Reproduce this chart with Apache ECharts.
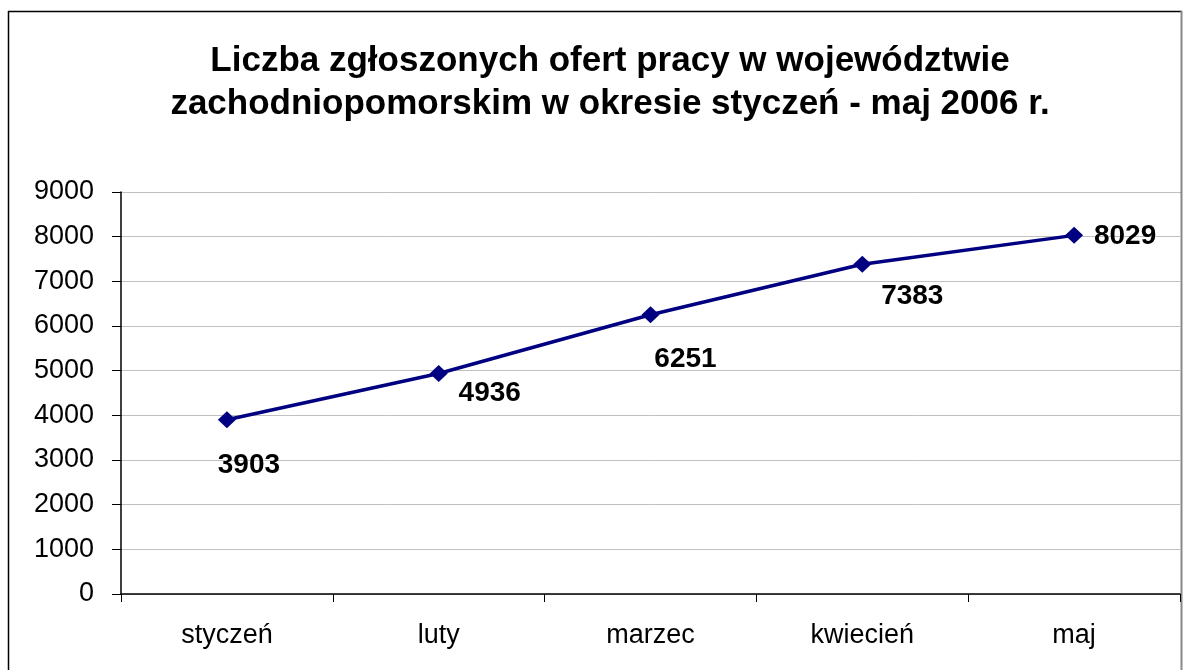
<!DOCTYPE html>
<html>
<head>
<meta charset="utf-8">
<script src="https://cdn.jsdelivr.net/npm/echarts@6/dist/echarts.min.js"></script>
<style>
html,body{margin:0;padding:0;background:#fff;}
#chart{width:1184px;height:670px;}
</style>
</head>
<body>
<div id="chart"></div>
<script>
const titleLines = ['Liczba zgłoszonych ofert pracy w województwie', 'zachodniopomorskim w okresie styczeń - maj 2006 r.'];
const categories = ['styczeń', 'luty', 'marzec', 'kwiecień', 'maj'];
const values = [3903, 4936, 6251, 7383, 8029];
const yTicks = [0, 1000, 2000, 3000, 4000, 5000, 6000, 7000, 8000, 9000];
// label offsets (style only)
const labelOffsets = [[22, 46], [51, 20], [35, 44], [50, 32], [51, 1]];

const chart = echarts.init(document.getElementById('chart'), null, {renderer: 'canvas'});
const FONT = '"Liberation Sans", Arial, sans-serif';

chart.setOption({
  backgroundColor: '#fff',
  animation: false,
  title: {
    text: titleLines.join('\n'),
    left: 605,
    textAlign: 'center',
    top: 35,
    textStyle: {fontFamily: FONT, fontWeight: 'bold', fontSize: 35, lineHeight: 43, color: '#000'}
  },
  grid: {left: 121, top: 192, right: 4, bottom: 76, containLabel: false},
  xAxis: {
    type: 'category',
    data: categories,
    boundaryGap: true,
    axisLine: {lineStyle: {color: '#000', width: 1.5}},
    axisTick: {show: true, alignWithLabel: false, length: 8, lineStyle: {color: '#000'}},
    axisLabel: {fontFamily: FONT, fontSize: 27, color: '#000', margin: 28},
    splitLine: {show: false}
  },
  yAxis: {
    type: 'value',
    min: yTicks[0],
    max: yTicks[yTicks.length - 1],
    interval: yTicks[1] - yTicks[0],
    axisLine: {show: true, lineStyle: {color: '#000', width: 1.5}},
    axisTick: {show: true, length: 9, lineStyle: {color: '#000'}},
    axisLabel: {fontFamily: FONT, fontSize: 27, color: '#000', margin: 27, formatter: v => String(v)},
    splitLine: {show: true, lineStyle: {color: '#c0c0c0', width: 1}}
  },
  series: [{
    type: 'line',
    data: values.map((v, i) => ({
      value: v,
      label: {offset: labelOffsets[i]}
    })),
    symbol: 'diamond',
    symbolSize: [18, 17],
    lineStyle: {color: '#000080', width: 3.5},
    itemStyle: {color: '#000080'},
    label: {
      show: true,
      position: 'inside',
      fontFamily: FONT,
      fontWeight: 'bold',
      fontSize: 28,
      color: '#000'
    }
  }],
  graphic: [
    {type: 'line', shape: {x1: 8.5, y1: 11, x2: 8.5, y2: 680}, style: {stroke: '#000', lineWidth: 1.5}},
    {type: 'line', shape: {x1: 8, y1: 11.5, x2: 1182, y2: 11.5}, style: {stroke: '#000', lineWidth: 1.5}},
    {type: 'line', shape: {x1: 121, y1: 192.5, x2: 1181, y2: 192.5}, style: {stroke: '#999', lineWidth: 1}},
    {type: 'line', shape: {x1: 1181.5, y1: 11, x2: 1181.5, y2: 680}, style: {stroke: '#888', lineWidth: 2}}
  ]
});
</script>
</body>
</html>
